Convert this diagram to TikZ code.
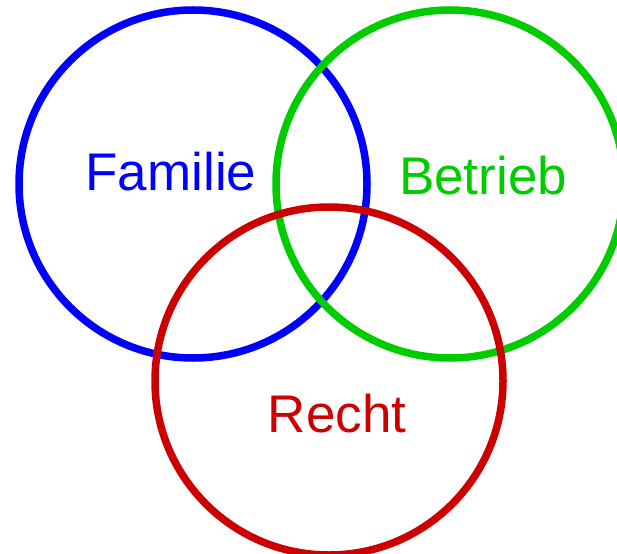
\documentclass[tikz,border=0pt]{standalone}
\usepackage{fontspec}
\setmainfont{Liberation Sans}
\usepackage{xcolor}
\usepackage{tikz}
\definecolor{famblue}{HTML}{0000FF}
\definecolor{betgreen}{HTML}{00CC00}
\definecolor{rechtred}{HTML}{CC0000}
\begin{document}
\begin{tikzpicture}[x=1pt,y=-1pt,
  ring/.style={circle,line width=7.5pt,minimum size=348pt,inner sep=0pt},
  lbl/.style={anchor=base,font=\fontsize{53}{60}\selectfont}]
  \useasboundingbox (0,0) rectangle (617,553);
  \node[ring,draw=famblue] (familie) at (193,184) {};
  \node[ring,draw=betgreen] (betrieb) at (450,184) {};
  \node[ring,draw=rechtred] (recht) at (329,381) {};
  \node[lbl,text=famblue] (famtext) at (171,190.5) {Familie};
  \node[lbl,text=betgreen] (bettext) at (483,194.5) {Betrieb};
  \node[lbl,text=rechtred] (rechttext) at (337,432) {Recht};
\end{tikzpicture}
\end{document}
